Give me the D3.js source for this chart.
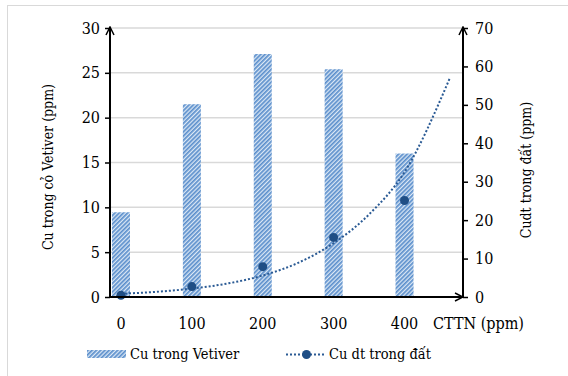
<!DOCTYPE html>
<html lang="en">
<head>
  <meta charset="UTF-8">
  <title>Cu trong Vetiver</title>
  <script src="https://d3js.org/d3.v7.min.js"></script>
  <style>
    body { margin: 0; background: #fff; }
  </style>
</head>
<body>
  <svg width="568" height="376"></svg>

  <script>
    // values
    const doses = [0, 100, 200, 300, 400];
    const cuVetiver = [9.45, 21.5, 27.1, 25.4, 16.0];
    const cuSoil = [0.45, 2.7, 7.9, 15.5, 25.1];
    // exponential trendline (Excel, forecast forward)
    const trendX = [0, 50, 100, 150, 200, 250, 300, 350, 400, 464];
    const trendY = [0.85, 1.35, 2.2, 3.5, 5.6, 8.9, 14.0, 21.5, 32.5, 57];
    const leftTicks = [0, 5, 10, 15, 20, 25, 30];
    const rightTicks = [0, 10, 20, 30, 40, 50, 60, 70];

    const serif = "'DejaVu Serif Condensed', 'DejaVu Serif', serif";

    const svg = d3.select("svg");
    const plotLeft = 110, plotRight = 463, plotTop = 28, plotBottom = 297;

    const x = d3.scaleLinear().domain([-15.5, 482.5]).range([plotLeft, plotRight]);
    const yL = d3.scaleLinear().domain([0, 30]).range([plotBottom, plotTop]);
    const yR = d3.scaleLinear().domain([0, 70]).range([plotBottom, plotTop]);

    const defs = svg.append("defs");
    const pat = defs.append("pattern")
      .attr("id", "hatch")
      .attr("patternUnits", "userSpaceOnUse")
      .attr("width", 3).attr("height", 3)
      .attr("patternTransform", "rotate(45)");
    pat.append("rect").attr("width", 3).attr("height", 3).attr("fill", "#dce8f5");
    pat.append("rect").attr("width", 1.7).attr("height", 3).attr("fill", "#5b8fcc");

    defs.append("marker")
      .attr("id", "arrow")
      .attr("viewBox", "0 0 10 10")
      .attr("refX", 9).attr("refY", 5)
      .attr("markerWidth", 10).attr("markerHeight", 10)
      .attr("markerUnits", "userSpaceOnUse")
      .attr("orient", "auto")
      .append("path")
      .attr("d", "M1,1 L9,5 L1,9")
      .attr("fill", "none").attr("stroke", "#000").attr("stroke-width", 1.5);

    // chart border
    svg.append("rect")
      .attr("x", 7.5).attr("y", 5.5)
      .attr("width", 580).attr("height", 390)
      .attr("fill", "none").attr("stroke", "#d9d9d9");

    // gridlines
    svg.append("g").selectAll("line")
      .data(leftTicks.filter(d => d > 0))
      .join("line")
      .attr("x1", plotLeft).attr("x2", plotRight)
      .attr("y1", d => yL(d)).attr("y2", d => yL(d))
      .attr("stroke", "#d9d9d9").attr("stroke-width", 1.5);

    // bars
    const bw = 18;
    svg.append("g").selectAll("rect")
      .data(doses)
      .join("rect")
      .attr("x", (d) => x(d) - bw / 2)
      .attr("y", (d, i) => yL(cuVetiver[i]))
      .attr("width", bw)
      .attr("height", (d, i) => yL(0) - yL(cuVetiver[i]))
      .attr("fill", "url(#hatch)");

    // trendline
    const line = d3.line()
      .x(d => x(d[0]))
      .y(d => yR(d[1]))
      .curve(d3.curveMonotoneX);
    svg.append("path")
      .datum(trendX.map((d, i) => [d, trendY[i]]))
      .attr("d", line)
      .attr("fill", "none")
      .attr("stroke", "#2a5a94")
      .attr("stroke-width", 2)
      .attr("stroke-dasharray", "2,2");

    // points
    svg.append("g").selectAll("circle")
      .data(doses)
      .join("circle")
      .attr("cx", d => x(d))
      .attr("cy", (d, i) => yR(cuSoil[i]))
      .attr("r", 4.5)
      .attr("fill", "#1f4e85");

    // axes
    const axL = svg.append("g")
      .attr("transform", `translate(${plotLeft},0)`)
      .call(d3.axisLeft(yL).tickValues(leftTicks).tickSize(5).tickPadding(5));
    const axR = svg.append("g")
      .attr("transform", `translate(${plotRight},0)`)
      .call(d3.axisRight(yR).tickValues(rightTicks).tickSize(5).tickPadding(7));
    [axL, axR].forEach(g => {
      g.attr("font-family", serif).attr("font-size", 16);
      g.select(".domain").remove();
      g.selectAll(".tick line").attr("stroke", "#000").attr("stroke-width", 1.5);
    });

    svg.append("line")
      .attr("x1", plotLeft).attr("x2", plotLeft)
      .attr("y1", plotBottom + 1).attr("y2", plotTop - 1)
      .attr("stroke", "#000").attr("stroke-width", 2)
      .attr("marker-end", "url(#arrow)");
    svg.append("line")
      .attr("x1", plotRight).attr("x2", plotRight)
      .attr("y1", plotBottom + 1).attr("y2", plotTop - 1)
      .attr("stroke", "#000").attr("stroke-width", 2)
      .attr("marker-end", "url(#arrow)");
    svg.append("line")
      .attr("x1", plotLeft - 1).attr("x2", plotRight)
      .attr("y1", plotBottom).attr("y2", plotBottom)
      .attr("stroke", "#000").attr("stroke-width", 2)
      .attr("marker-end", "url(#arrow)");

    // x labels
    svg.append("g").selectAll("text")
      .data(doses)
      .join("text")
      .attr("x", d => x(d))
      .attr("y", 329)
      .attr("text-anchor", "middle")
      .attr("font-family", serif)
      .attr("font-size", 16)
      .text(d => d);

    svg.append("text")
      .attr("x", 433).attr("y", 329)
      .attr("font-family", serif)
      .attr("font-size", 16)
      .text("CTTN (ppm)");

    svg.append("text")
      .attr("transform", "translate(53,167) rotate(-90)")
      .attr("text-anchor", "middle")
      .attr("font-family", serif)
      .attr("font-size", 14)
      .text("Cu  trong cỏ Vetiver (ppm)");

    svg.append("text")
      .attr("transform", "translate(531,170) rotate(-90)")
      .attr("text-anchor", "middle")
      .attr("font-family", serif)
      .attr("font-size", 14)
      .text("Cudt trong đất (ppm)");

    // legend
    const lg = svg.append("g").attr("font-family", serif).attr("font-size", 14.5);
    lg.append("rect")
      .attr("x", 87).attr("y", 350)
      .attr("width", 39).attr("height", 8)
      .attr("fill", "url(#hatch)");
    lg.append("text")
      .attr("x", 130).attr("y", 359)
      .text("Cu trong Vetiver");
    lg.append("line")
      .attr("x1", 286).attr("x2", 325)
      .attr("y1", 354.5).attr("y2", 354.5)
      .attr("stroke", "#2a5a94").attr("stroke-width", 2)
      .attr("stroke-dasharray", "2,2");
    lg.append("circle")
      .attr("cx", 306.5).attr("cy", 354.5).attr("r", 4.5)
      .attr("fill", "#1f4e85");
    lg.append("text")
      .attr("x", 329).attr("y", 359)
      .text("Cu dt trong đất");
  </script>
</body>
</html>
